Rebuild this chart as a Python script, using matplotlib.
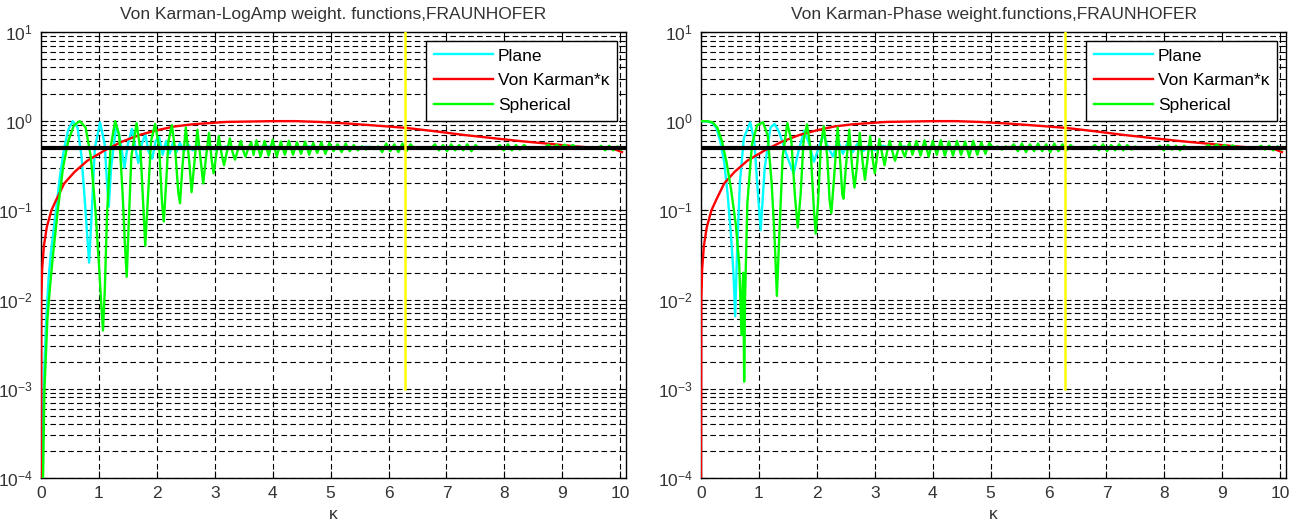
import numpy as np
import matplotlib.pyplot as plt

plt.rcParams['font.family'] = ['Liberation Sans', 'DejaVu Sans']
plt.rcParams['mathtext.default'] = 'regular'

# von Karman spectrum times kappa (same curve on both panels)
vk_pts = [(0.0, 1e-4), (0.005, 0.01), (0.02, 0.022), (0.05, 0.04), (0.1, 0.065),
          (0.18, 0.1), (0.26, 0.13), (0.4, 0.2), (0.58, 0.27), (0.8, 0.36),
          (1.1, 0.47), (1.4, 0.59), (1.7, 0.7), (2.0, 0.79), (2.3, 0.87),
          (2.6, 0.92), (2.9, 0.95), (3.2, 0.98), (3.6, 0.99), (4.0, 1.0),
          (4.4, 1.0), (4.8, 0.98), (5.3, 0.94), (5.8, 0.89), (6.3, 0.84),
          (6.8, 0.77), (7.3, 0.70), (7.8, 0.645), (8.3, 0.595), (8.8, 0.555),
          (9.25, 0.52), (9.6, 0.5), (9.9, 0.485), (10.03, 0.45)]

# log-amplitude weights
plane_logamp = [(0.015, 1e-4), (0.03, 4e-4), (0.06, 2e-3), (0.09, 6e-3), (0.13, 0.017),
                (0.17, 0.033), (0.21, 0.055), (0.26, 0.1), (0.33, 0.25), (0.4, 0.5),
                (0.47, 0.8), (0.55, 1.0), (0.63, 0.85), (0.7, 0.4), (0.76, 0.12),
                (0.8, 0.05), (0.83, 0.026), (0.87, 0.08), (0.93, 0.5), (1.02, 0.97),
                (1.1, 0.55), (1.14, 0.2), (1.17, 0.11), (1.21, 0.3), (1.3, 0.9),
                (1.37, 0.6), (1.44, 0.3), (1.5, 0.55), (1.57, 0.82), (1.63, 0.5),
                (1.68, 0.34), (1.74, 0.55), (1.8, 0.72), (1.86, 0.45), (1.92, 0.38),
                (1.98, 0.6), (2.04, 0.66), (2.1, 0.42), (2.16, 0.6), (2.22, 0.43),
                (2.28, 0.58), (2.34, 0.45), (2.4, 0.57), (2.47, 0.46), (2.54, 0.55),
                (2.62, 0.47), (2.7, 0.54), (2.8, 0.48), (2.9, 0.53), (3.0, 0.48),
                (3.2, 0.52), (3.4, 0.49), (3.7, 0.51), (3.9, 0.52), (4.2, 0.49),
                (4.6, 0.52), (5.0, 0.49), (5.6, 0.515), (6.2, 0.495), (7.0, 0.51),
                (8.0, 0.495), (9.0, 0.505), (10.03, 0.5)]

sph_logamp = [(0.035, 1e-4), (0.06, 1e-3), (0.11, 6e-3), (0.16, 0.015), (0.21, 0.033),
              (0.29, 0.1), (0.38, 0.3), (0.47, 0.6), (0.57, 0.9), (0.67, 1.0),
              (0.77, 0.85), (0.86, 0.4), (0.94, 0.1), (1.0, 0.025), (1.04, 0.009),
              (1.07, 0.0045), (1.1, 0.012), (1.14, 0.09), (1.2, 0.5), (1.28, 1.0),
              (1.35, 0.7), (1.41, 0.15), (1.45, 0.04), (1.48, 0.018), (1.51, 0.06),
              (1.56, 0.4), (1.65, 0.95), (1.72, 0.45), (1.77, 0.1), (1.8, 0.04),
              (1.84, 0.12), (1.9, 0.6), (1.97, 0.93), (2.04, 0.5), (2.09, 0.12),
              (2.12, 0.075), (2.16, 0.2), (2.2, 0.6), (2.26, 0.9), (2.32, 0.45),
              (2.37, 0.16), (2.4, 0.12), (2.44, 0.3), (2.5, 0.85), (2.56, 0.35),
              (2.6, 0.16), (2.65, 0.35), (2.7, 0.8), (2.76, 0.35), (2.8, 0.2),
              (2.85, 0.4), (2.9, 0.74), (2.95, 0.35), (2.98, 0.26), (3.02, 0.4),
              (3.07, 0.68), (3.12, 0.42), (3.16, 0.32), (3.21, 0.45), (3.26, 0.64),
              (3.31, 0.44), (3.35, 0.37), (3.4, 0.48), (3.45, 0.6), (3.5, 0.45),
              (3.53, 0.4), (3.58, 0.5), (3.63, 0.58), (3.67, 0.42)]

# fine ripple of the spherical weight, sampled every 0.07 from 3.72 to 10.02
sph_logamp_tail = [0.61, 0.40, 0.60, 0.41, 0.62, 0.40, 0.59, 0.42, 0.60,
                   0.42, 0.58, 0.43, 0.59, 0.42, 0.57, 0.44, 0.58, 0.43, 0.57,
                   0.46, 0.55, 0.45, 0.56, 0.46, 0.54, 0.47,
                   0.52, 0.48, 0.515, 0.485, 0.52,
                   0.45, 0.56, 0.46, 0.55, 0.45, 0.56, 0.46, 0.55,
                   0.49, 0.51, 0.49, 0.51, 0.495,
                   0.55, 0.47, 0.54, 0.46, 0.55, 0.47, 0.54, 0.47, 0.55, 0.46, 0.54,
                   0.495, 0.51, 0.495, 0.51, 0.495,
                   0.54, 0.47, 0.55, 0.47, 0.54, 0.48, 0.54,
                   0.495, 0.51, 0.495, 0.51, 0.5,
                   0.545, 0.5, 0.54, 0.505, 0.545, 0.5, 0.54, 0.505,
                   0.495, 0.51, 0.495, 0.51, 0.495,
                   0.53, 0.47, 0.53, 0.47, 0.52, 0.48]

# phase weights
plane_phase = [(0.0, 1.0), (0.12, 0.99), (0.2, 0.95), (0.27, 0.82), (0.33, 0.6),
               (0.4, 0.35), (0.46, 0.15), (0.52, 0.05), (0.56, 0.02), (0.59, 0.0065),
               (0.62, 0.03), (0.67, 0.2), (0.74, 0.65), (0.85, 0.97), (0.92, 0.6),
               (0.97, 0.2), (1.03, 0.06), (1.1, 0.3), (1.2, 0.85), (1.27, 0.93),
               (1.35, 0.75), (1.5, 0.38), (1.6, 0.26), (1.68, 0.45), (1.78, 0.78),
               (1.87, 0.55), (1.95, 0.35), (2.03, 0.5), (2.11, 0.7), (2.2, 0.5),
               (2.28, 0.4), (2.36, 0.62), (2.45, 0.43), (2.53, 0.58), (2.62, 0.45),
               (2.7, 0.56), (2.8, 0.46), (2.9, 0.54), (3.0, 0.47), (3.15, 0.53),
               (3.3, 0.48), (3.5, 0.52), (3.7, 0.49), (4.0, 0.515), (4.4, 0.49),
               (4.8, 0.51), (5.4, 0.495), (6.0, 0.51), (7.0, 0.495), (8.0, 0.505),
               (9.0, 0.497), (10.03, 0.5)]

sph_phase = [(0.0, 1.0), (0.1, 1.0), (0.2, 0.97), (0.28, 0.85), (0.36, 0.6),
             (0.44, 0.35), (0.52, 0.17), (0.6, 0.07), (0.66, 0.025), (0.7, 0.004),
             (0.72, 0.015), (0.73, 0.02), (0.745, 0.0012), (0.76, 0.01), (0.8, 0.12),
             (0.88, 0.55), (0.97, 0.9), (1.07, 0.97), (1.15, 0.7), (1.22, 0.2),
             (1.27, 0.05), (1.31, 0.011), (1.35, 0.05), (1.41, 0.4), (1.49, 0.95),
             (1.56, 0.6), (1.62, 0.15), (1.67, 0.064), (1.72, 0.15), (1.77, 0.6),
             (1.83, 0.92), (1.89, 0.5), (1.95, 0.1), (1.98, 0.055), (2.02, 0.12),
             (2.07, 0.55), (2.12, 0.88), (2.18, 0.4), (2.22, 0.13), (2.25, 0.093),
             (2.29, 0.2), (2.36, 0.85), (2.41, 0.3), (2.44, 0.15), (2.46, 0.135),
             (2.5, 0.3), (2.56, 0.8), (2.61, 0.3), (2.65, 0.18), (2.69, 0.3),
             (2.74, 0.74), (2.79, 0.35), (2.83, 0.22), (2.87, 0.35), (2.92, 0.68),
             (2.97, 0.35), (3.0, 0.26), (3.04, 0.4), (3.08, 0.63), (3.13, 0.42),
             (3.17, 0.32), (3.21, 0.45), (3.26, 0.6), (3.31, 0.44), (3.35, 0.36),
             (3.4, 0.47), (3.44, 0.58), (3.49, 0.44), (3.52, 0.4), (3.56, 0.5),
             (3.6, 0.57), (3.65, 0.42)]

sph_phase_tail = [0.60, 0.41, 0.61, 0.40, 0.60, 0.42, 0.61, 0.41, 0.59,
                  0.41, 0.60, 0.42, 0.59, 0.40, 0.60, 0.42, 0.58, 0.43, 0.57,
                  0.49, 0.52, 0.48, 0.52, 0.49, 0.55, 0.46,
                  0.56, 0.45, 0.55, 0.46, 0.56,
                  0.46, 0.55, 0.45, 0.56, 0.46, 0.55, 0.47, 0.54,
                  0.49, 0.51, 0.49, 0.51, 0.495,
                  0.54, 0.47, 0.55, 0.46, 0.54, 0.47, 0.55, 0.47, 0.54, 0.48, 0.52,
                  0.495, 0.51, 0.495, 0.51, 0.495,
                  0.53, 0.47, 0.54, 0.48, 0.53, 0.47, 0.53,
                  0.495, 0.51, 0.495, 0.51, 0.5,
                  0.54, 0.5, 0.545, 0.505, 0.54, 0.5, 0.535, 0.505,
                  0.495, 0.51, 0.495, 0.51, 0.495,
                  0.53, 0.48, 0.53, 0.47, 0.52, 0.48]

level = 0.5
fresnel_k = 2 * np.pi
fresnel_span = [1e-3, 10]

titles = ['Von Karman-LogAmp weight. functions,FRAUNHOFER',
          'Von Karman-Phase weight.functions,FRAUNHOFER']
labels = ['Plane', 'Von Karman*\u03ba', 'Spherical']

grid_ls = (0, (5, 3))


def draw(ax, title, plane, sph, tail):
    pk, pv = zip(*plane)
    vk, vv = zip(*vk_pts)
    sk, sv = zip(*sph)
    tk = np.linspace(3.72, 10.02, len(tail))
    l1, = ax.plot(pk, pv, color='#00ffff', lw=1.7, zorder=2)
    l2, = ax.plot(vk, vv, color='#ff0000', lw=1.7, zorder=3)
    l3, = ax.plot(list(sk) + list(tk), list(sv) + list(tail), color='#00ff00', lw=1.7, zorder=4)
    ax.plot([0, 10.1], [level, level], color='k', lw=3, zorder=5)
    ax.plot([fresnel_k, fresnel_k], fresnel_span, color='#ffff00', lw=1.8, zorder=6)

    ax.set_yscale('log')
    ax.set_xlim(0, 10.1)
    ax.set_ylim(1e-4, 10)
    ax.set_xticks(range(0, 11))
    ax.grid(True, which='major', color='k', ls=grid_ls, lw=0.8)
    ax.yaxis.grid(True, which='minor', color='k', ls=grid_ls, lw=0.8)
    ax.tick_params(which='both', direction='in', top=True, right=True,
                   labelsize=12.5, colors='k', labelcolor='#333333')
    ax.tick_params(which='major', length=5, pad=6)
    ax.tick_params(which='minor', length=3)
    for s in ax.spines.values():
        s.set_linewidth(1)
    ax.set_title(title, fontsize=12.5, color='#333333', pad=9)
    ax.set_xlabel('\u03ba', fontsize=12.5, color='#333333', labelpad=4)
    leg = ax.legend([l1, l2, l3], labels, loc='upper right', fontsize=12.5,
                    handlelength=3.4, handletextpad=0.3, labelspacing=0.55,
                    borderaxespad=0.5, fancybox=False, framealpha=1,
                    edgecolor='k', borderpad=0.45)
    leg.get_frame().set_linewidth(1)
    leg.set_zorder(10)


fig = plt.figure(figsize=(13.12, 5.26), dpi=100)
ax1 = fig.add_axes([0.03125, 0.0913, 0.4459, 0.848])
ax2 = fig.add_axes([0.5343, 0.0913, 0.4459, 0.848])
draw(ax1, titles[0], plane_logamp, sph_logamp, sph_logamp_tail)
draw(ax2, titles[1], plane_phase, sph_phase, sph_phase_tail)

plt.savefig('out.png', dpi=100)
plt.close()
